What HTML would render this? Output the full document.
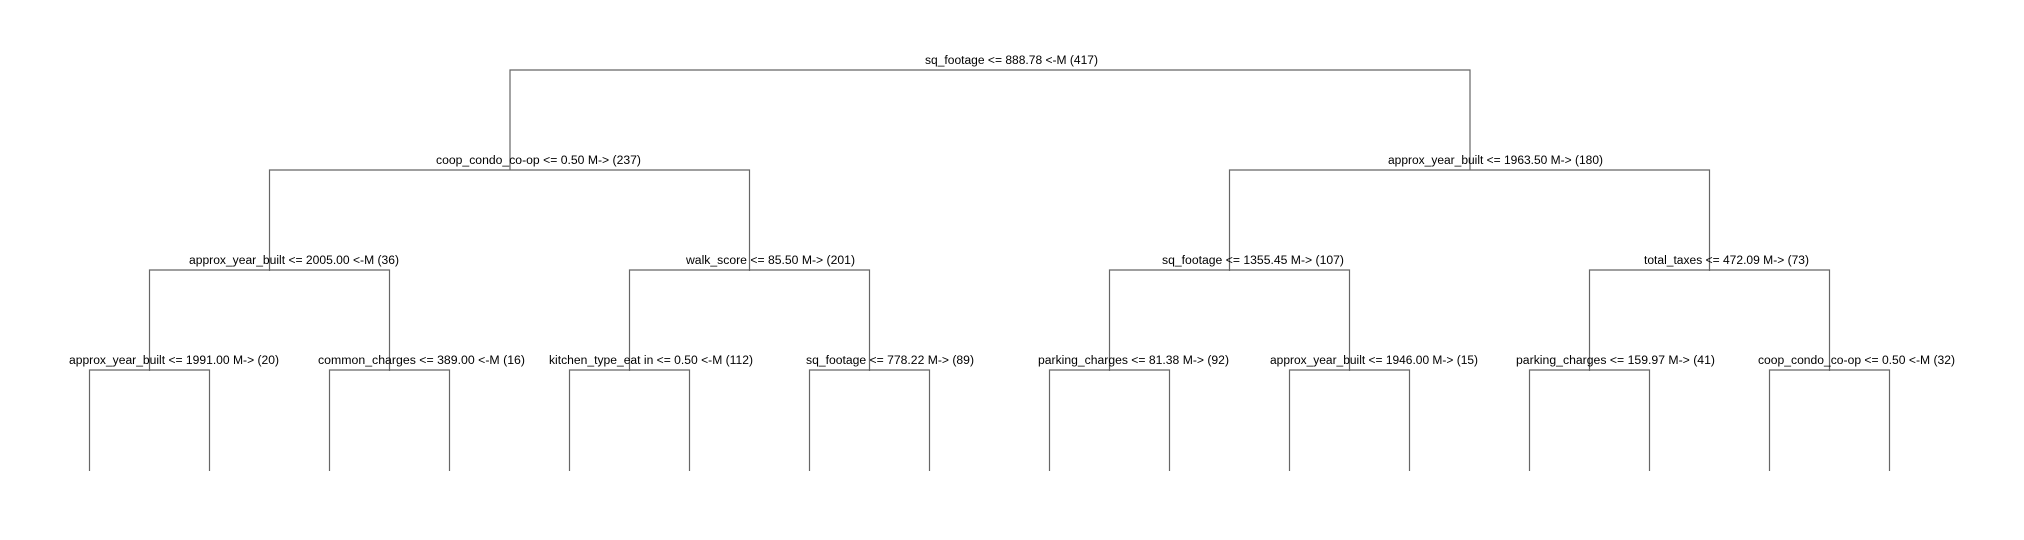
<!DOCTYPE html>
<html><head><meta charset="utf-8"><style>
html,body{margin:0;padding:0;background:#fff;width:2024px;height:540px;overflow:hidden}
svg{display:block}
text{font-family:"Liberation Sans",sans-serif;font-size:11.5px;fill:#000}
</style></head><body>
<svg width="2024" height="540" xmlns="http://www.w3.org/2000/svg">
<g stroke="#666" stroke-width="1.2" fill="none">
<path d="M510 170V70H1470V170"/>
<path d="M269.5 271V170H749.5V271"/>
<path d="M1229.5 271V170H1709.5V271"/>
<path d="M149.5 371V270H389.5V371"/>
<path d="M629.5 371V270H869.5V371"/>
<path d="M1109.5 371V270H1349.5V371"/>
<path d="M1589.5 371V270H1829.5V371"/>
<path d="M89.5 471V370H209.5V471"/>
<path d="M329.5 471V370H449.5V471"/>
<path d="M569.5 471V370H689.5V471"/>
<path d="M809.5 471V370H929.5V471"/>
<path d="M1049.5 471V370H1169.5V471"/>
<path d="M1289.5 471V370H1409.5V471"/>
<path d="M1529.5 471V370H1649.5V471"/>
<path d="M1769.5 471V370H1889.5V471"/>
</g>
<g>
<text x="925" y="64" textLength="173" lengthAdjust="spacingAndGlyphs">sq_footage &lt;= 888.78 &lt;-M (417)</text>
<text x="436" y="164" textLength="205" lengthAdjust="spacingAndGlyphs">coop_condo_co-op &lt;= 0.50 M-&gt; (237)</text>
<text x="1388" y="164" textLength="215" lengthAdjust="spacingAndGlyphs">approx_year_built &lt;= 1963.50 M-&gt; (180)</text>
<text x="189" y="264" textLength="210" lengthAdjust="spacingAndGlyphs">approx_year_built &lt;= 2005.00 &lt;-M (36)</text>
<text x="686" y="264" textLength="169" lengthAdjust="spacingAndGlyphs">walk_score &lt;= 85.50 M-&gt; (201)</text>
<text x="1162" y="264" textLength="182" lengthAdjust="spacingAndGlyphs">sq_footage &lt;= 1355.45 M-&gt; (107)</text>
<text x="1644" y="264" textLength="165" lengthAdjust="spacingAndGlyphs">total_taxes &lt;= 472.09 M-&gt; (73)</text>
<text x="69" y="364" textLength="210" lengthAdjust="spacingAndGlyphs">approx_year_built &lt;= 1991.00 M-&gt; (20)</text>
<text x="318" y="364" textLength="207" lengthAdjust="spacingAndGlyphs">common_charges &lt;= 389.00 &lt;-M (16)</text>
<text x="549" y="364" textLength="204" lengthAdjust="spacingAndGlyphs">kitchen_type_eat in &lt;= 0.50 &lt;-M (112)</text>
<text x="806" y="364" textLength="168" lengthAdjust="spacingAndGlyphs">sq_footage &lt;= 778.22 M-&gt; (89)</text>
<text x="1038" y="364" textLength="191" lengthAdjust="spacingAndGlyphs">parking_charges &lt;= 81.38 M-&gt; (92)</text>
<text x="1270" y="364" textLength="208" lengthAdjust="spacingAndGlyphs">approx_year_built &lt;= 1946.00 M-&gt; (15)</text>
<text x="1516" y="364" textLength="199" lengthAdjust="spacingAndGlyphs">parking_charges &lt;= 159.97 M-&gt; (41)</text>
<text x="1758" y="364" textLength="197" lengthAdjust="spacingAndGlyphs">coop_condo_co-op &lt;= 0.50 &lt;-M (32)</text>
</g>
</svg>
</body></html>
